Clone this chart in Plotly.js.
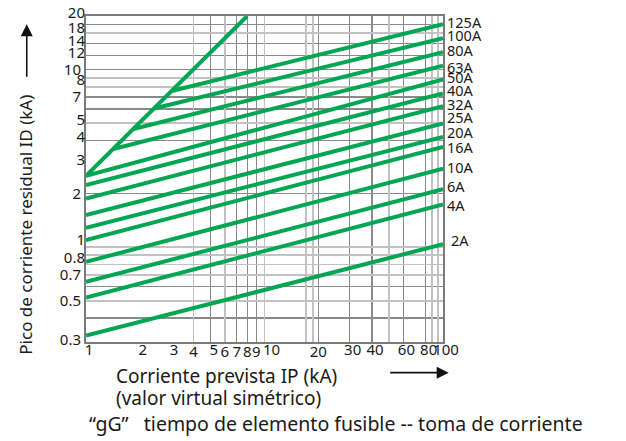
<!DOCTYPE html>
<html>
<head>
<meta charset="utf-8">
<script src="https://cdn.plot.ly/plotly-3.0.1.min.js"></script>
<style>
  html, body { margin: 0; padding: 0; background: #ffffff; }
  #chart { width: 626px; height: 441px; }
</style>
</head>
<body>
<div id="chart"></div>
<script>
// ---- data ----
const ratings = ['2A','4A','6A','10A','16A','20A','25A','32A','40A','50A','63A','80A','100A','125A'];
// start point of each fuse line (prospective current kA, cut-off peak kA)
const startIp = [1, 1, 1, 1, 1, 1, 1, 1, 1, 1, 1.42, 1.84, 2.40, 3.02];
const startId = [0.318, 0.521, 0.639, 0.828, 1.096, 1.285, 1.516, 1.88, 2.24, 2.52, 3.57, 4.63, 6.03, 7.57];
// value at the right end (Ip = 100 kA)
const endIp = 100;
const endId = [1.04, 1.74, 2.12, 2.77, 3.67, 4.18, 4.98, 6.22, 7.34, 8.8, 10.5, 12.5, 15.0, 18.0];
// unlimited peak envelope
const envelopeIp = [1, 8.0];
const envelopeId = [2.52, 20];

// axis ticks
const xTickVals = [1, 2, 3, 4, 5, 6, 7, 8, 9, 10, 20, 30, 40, 60, 80, 100];
const xTickText = ['1','2','3','4','5','6','7','8','9','10','20','30','40','60','80','100'];
const yTickVals = [0.3, 0.5, 0.7, 0.8, 1, 2, 3, 4, 5, 7, 8, 10, 12, 14, 18, 20];
const yTickText = ['0.3','0.5','0.7','0.8','1','2','3','4','5','7','8','10','12','14','18','20'];
// grid lines
const xGridDark = [5, 7, 8, 9, 20, 30, 40, 60, 80];
const xGridLight = [4, 6, 10, 17, 18.6, 50, 87, 94];
const yGridDark = [0.4, 0.6, 2, 4, 6, 7, 10, 12, 14, 18];
const yGridLight = [0.5, 0.7, 0.8, 0.9, 1, 5, 8, 9, 16];

// ---- styling ----
const GREEN = '#00a651';
const FONT = 'Noto Sans, Open Sans, sans-serif';
const TXT = '#1a1a1a';
const DARK = '#8a8a8a';
const LIGHT = '#c2c2c2';
const TICKSIZE = 15;

// label placement nudges (px, styling only, as in the printed chart); y: positive = up
const labelNudge = [4, -1, 3, 2, 0, 5, 6, 2, 3, 2, -1, 2, 3, 2];
const yLabelShift = { 20: 3, 18: -4, 14: 3, 12: 3, 8: 7, 5: 3, 4: 3, 3: 3, 1: 7, 0.8: 7 };
const xLabelShift = { 1: 3, 2: 3, 3: 3, 5: 3, 10: 7, 30: 3, 40: 3, 60: 3, 80: 3, 100: 3 };

function group(vals, texts, shifts, s) {
  const v = [], t = [];
  vals.forEach((val, i) => { if ((shifts[val] || 0) === s) { v.push(val); t.push(texts[i]); } });
  return { tickvals: v, ticktext: t };
}

const traces = [];
traces.push({
  x: envelopeIp, y: envelopeId, type: 'scatter', mode: 'lines',
  line: { color: GREEN, width: 4 }, hoverinfo: 'skip', showlegend: false
});
ratings.forEach((r, i) => {
  traces.push({
    x: [startIp[i], endIp], y: [startId[i], endId[i]], type: 'scatter', mode: 'lines',
    name: r, line: { color: GREEN, width: 4 }, showlegend: false
  });
});
// empty traces that create the overlay axes (light grid and shifted tick labels)
[['x2','y2'], ['x','y3'], ['x','y4'], ['x3','y']].forEach(p => {
  traces.push({ x: [], y: [], xaxis: p[0], yaxis: p[1], type: 'scatter', mode: 'lines', showlegend: false, hoverinfo: 'skip' });
});

const yRange = [Math.log10(0.293), Math.log10(20)];
const xRange = [0, 2];

const annotations = [];
ratings.forEach((r, i) => {
  annotations.push({
    x: Math.log10(endIp), y: Math.log10(endId[i]), xref: 'x', yref: 'y',
    text: r, showarrow: false, xanchor: 'left', yanchor: 'middle',
    xshift: r === '2A' ? 6 : 2, yshift: labelNudge[i],
    font: { family: FONT, size: 14.5, color: TXT }
  });
});

// axis titles and arrows (paper coordinates)
annotations.push({
  xref: 'paper', yref: 'paper', x: -0.168, y: 0.36, textangle: -90,
  text: 'Pico de corriente residual ID (kA)', showarrow: false,
  xanchor: 'center', yanchor: 'middle', font: { family: FONT, size: 17, color: TXT }
});
annotations.push({
  xref: 'paper', yref: 'paper', x: -0.166, y: 0.975, text: ' ', showarrow: true,
  ax: 0, ay: 64, arrowhead: 2, arrowsize: 1.5, arrowwidth: 1.6, arrowcolor: '#111', standoff: 0
});
annotations.push({
  xref: 'paper', yref: 'paper', x: 1.016, y: -0.094, text: ' ', showarrow: true,
  ax: -62, ay: 0, arrowhead: 2, arrowsize: 1.5, arrowwidth: 1.6, arrowcolor: '#111', standoff: 0
});
annotations.push({
  xref: 'paper', yref: 'paper', x: 0.079, y: -0.105, xanchor: 'left', yanchor: 'middle',
  text: 'Corriente prevista IP (kA)', showarrow: false,
  font: { family: FONT, size: 19, color: TXT }
});
annotations.push({
  xref: 'paper', yref: 'paper', x: 0.079, y: -0.171, xanchor: 'left', yanchor: 'middle',
  text: '(valor virtual simétrico)', showarrow: false,
  font: { family: FONT, size: 19, color: TXT }
});
annotations.push({
  xref: 'paper', yref: 'paper', x: 0.004, y: -0.25, xanchor: 'left', yanchor: 'middle',
  text: '“gG”\u00a0\u00a0 tiempo de elemento fusible -- toma de corriente', showarrow: false,
  font: { family: FONT, size: 19.5, color: TXT }
});

const tickFont = { family: FONT, size: TICKSIZE, color: TXT };
const xBase = { type: 'log', range: xRange, tickmode: 'array', tickangle: 0, ticks: '', zeroline: false,
  tickfont: tickFont };
const yBase = { type: 'log', range: yRange, tickmode: 'array', ticks: '', zeroline: false, tickfont: tickFont };

const layout = {
  width: 626, height: 441,
  margin: { l: 86, r: 183, t: 16, b: 99, pad: 0 },
  paper_bgcolor: '#ffffff', plot_bgcolor: '#ffffff',
  font: { family: FONT, size: TICKSIZE, color: TXT },
  showlegend: false,
  xaxis: Object.assign({}, xBase, group(xTickVals, xTickText, xLabelShift, 0), {
    showgrid: false, showline: true, mirror: true, linecolor: '#7a7a7a', linewidth: 2,
    ticklabelstandoff: -5,
    minor: { tickmode: 'array', tickvals: xGridDark, showgrid: true, gridcolor: DARK, gridwidth: 1.2, ticks: '' }
  }),
  xaxis2: Object.assign({}, xBase, group(xTickVals, xTickText, xLabelShift, 3), {
    overlaying: 'x', ticklabelshift: 3, ticklabelstandoff: -3, showline: false, showgrid: false,
    minor: { tickmode: 'array', tickvals: xGridLight, showgrid: true, gridcolor: LIGHT, gridwidth: 1.8, ticks: '' }
  }),
  xaxis3: Object.assign({}, xBase, group(xTickVals, xTickText, xLabelShift, 7), {
    overlaying: 'x', ticklabelshift: 7, ticklabelstandoff: -3, showline: false, showgrid: false
  }),
  yaxis: Object.assign({}, yBase, group(yTickVals, yTickText, yLabelShift, 0), {
    showgrid: false, showline: true, mirror: true, linecolor: '#7a7a7a', linewidth: 2,
    minor: { tickmode: 'array', tickvals: yGridDark, showgrid: true, gridcolor: DARK, gridwidth: 1.2, ticks: '' }
  }),
  yaxis2: Object.assign({}, yBase, group(yTickVals, yTickText, yLabelShift, 3), {
    overlaying: 'y', ticklabelshift: -3, showline: false, showgrid: false,
    minor: { tickmode: 'array', tickvals: yGridLight, showgrid: true, gridcolor: LIGHT, gridwidth: 1.8, ticks: '' }
  }),
  yaxis3: Object.assign({}, yBase, group(yTickVals, yTickText, yLabelShift, 7), {
    overlaying: 'y', ticklabelshift: -7, showline: false, showgrid: false
  }),
  yaxis4: Object.assign({}, yBase, group(yTickVals, yTickText, yLabelShift, -4), {
    overlaying: 'y', ticklabelshift: 4, showline: false, showgrid: false
  }),
  annotations: annotations
};

Plotly.newPlot('chart', traces, layout, { staticPlot: true, displayModeBar: false });
</script>
</body>
</html>
